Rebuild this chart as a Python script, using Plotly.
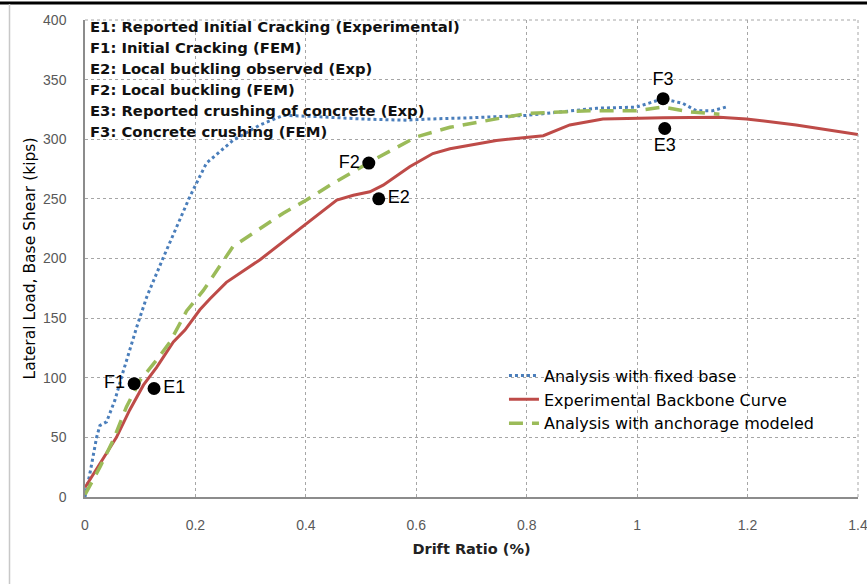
import plotly.graph_objects as go

# Analysis with fixed base (blue dotted)
fixed_x = [0.0, 0.009, 0.021, 0.027, 0.039, 0.054, 0.069, 0.094, 0.112, 0.142, 0.19, 0.22, 0.268,
           0.317, 0.359, 0.42, 0.5, 0.58, 0.625, 0.70, 0.80, 0.926, 0.999, 1.047, 1.083, 1.107, 1.137, 1.161]
fixed_y = [0, 20, 50, 60, 63, 81, 105, 143, 168, 201, 252, 280, 299,
           312, 320, 319, 317, 316, 317, 318, 320, 326, 327, 334, 330, 324, 324, 327]

# Experimental backbone curve (red solid)
exp_x = [0.0, 0.027, 0.057, 0.081, 0.106, 0.13, 0.16, 0.181, 0.208, 0.226, 0.256, 0.317, 0.401,
         0.456, 0.486, 0.516, 0.54, 0.588, 0.63, 0.661, 0.745, 0.83, 0.878, 0.938, 1.047, 1.149,
         1.198, 1.288, 1.4]
exp_y = [8, 28, 50, 73, 94, 109, 130, 140, 157, 166, 180, 199, 229,
         249, 253, 256, 261.5, 277, 288, 292, 299, 303, 312, 317, 318, 318.5,
         317, 312, 304]

# Analysis with anchorage modeled (green dashed)
anc_x = [0.0, 0.027, 0.051, 0.075, 0.1, 0.13, 0.154, 0.184, 0.214, 0.268, 0.359, 0.401, 0.449,
         0.522, 0.6, 0.661, 0.715, 0.80, 0.914, 0.999, 1.046, 1.095, 1.149]
anc_y = [2, 25, 47.6, 75.5, 98, 115, 130, 156, 173, 210, 238, 249, 263,
         282.5, 302, 310, 314.6, 321.6, 324, 324, 327, 323, 321]

# Event markers
event_labels = ["F1", "E1", "F2", "E2", "F3", "E3"]
event_x = [0.089, 0.125, 0.514, 0.532, 1.047, 1.05]
event_y = [95, 91, 280, 250, 334, 309]
event_pos = ["middle left", "middle right", "middle left", "middle right", "top center", "bottom center"]

notes = [
    "E1: Reported Initial Cracking (Experimental)",
    "F1: Initial Cracking (FEM)",
    "E2: Local buckling observed (Exp)",
    "F2: Local buckling (FEM)",
    "E3: Reported crushing of concrete (Exp)",
    "F3: Concrete crushing (FEM)",
]

x_ticks = [0, 0.2, 0.4, 0.6, 0.8, 1, 1.2, 1.4]
x_tick_text = ["0", "0.2", "0.4", "0.6", "0.8", "1", "1.2", "1.4"]
y_ticks = [0, 50, 100, 150, 200, 250, 300, 350, 400]

fig = go.Figure()
fig.add_trace(go.Scatter(x=fixed_x, y=fixed_y, mode="lines", name="Analysis with fixed base",
                         line=dict(color="#4a7ebb", width=3, dash="dot")))
fig.add_trace(go.Scatter(x=exp_x, y=exp_y, mode="lines", name="Experimental Backbone Curve",
                         line=dict(color="#be4b48", width=3)))
fig.add_trace(go.Scatter(x=anc_x, y=anc_y, mode="lines", name="Analysis with anchorage modeled",
                         line=dict(color="#9bbb59", width=3.5, dash="14px,9px")))
fig.add_trace(go.Scatter(x=event_x, y=event_y, mode="markers+text", text=event_labels,
                         textposition=event_pos, showlegend=False,
                         marker=dict(color="black", size=13),
                         textfont=dict(family="Liberation Sans", size=18, color="black")))

for i, t in enumerate(notes):
    fig.add_annotation(text="<b>" + t + "</b>", xref="paper", yref="paper",
                       x=0.004, y=1 - (6.5 + 21 * i) / 477.0, xanchor="left", yanchor="middle",
                       showarrow=False, font=dict(family="DejaVu Sans", size=14.8, color="#111111"))

# dashed border gridlines at top and right edges
fig.add_shape(type="line", xref="paper", yref="paper", x0=0, x1=1, y0=1, y1=1,
              line=dict(color="#a6a6a6", width=1, dash="3px,3px"))
fig.add_shape(type="line", xref="paper", yref="paper", x0=1, x1=1, y0=0, y1=1,
              line=dict(color="#a6a6a6", width=1, dash="3px,3px"))

# image frame lines
fig.add_shape(type="line", xref="paper", yref="paper", x0=-85 / 773.0, x1=782 / 773.0,
              y0=1 + 17 / 477.0, y1=1 + 17 / 477.0, line=dict(color="black", width=3))
fig.add_shape(type="line", xref="paper", yref="paper", x0=-75.5 / 773.0, x1=-75.5 / 773.0,
              y0=-87 / 477.0, y1=1 + 16 / 477.0, line=dict(color="#c8c8c8", width=1.5))

grid = dict(showgrid=True, gridcolor="#a6a6a6", gridwidth=1, griddash="3px,3px")
fig.update_xaxes(range=[0, 1.4], tickvals=x_ticks, ticktext=x_tick_text, zeroline=False,
                 showline=True, linecolor="#8c8c8c", linewidth=1.5, ticks="",
                 ticklabelstandoff=14, ticklabeloverflow="allow", automargin=False,
                 tickfont=dict(family="Liberation Sans", size=14, color="#595959"),
                 title=dict(text="<b>Drift Ratio (%)</b>", standoff=12,
                            font=dict(family="DejaVu Sans", size=14.5, color="#222222")),
                 **grid)
fig.update_yaxes(range=[0, 400], tickvals=y_ticks, zeroline=False,
                 showline=True, linecolor="#8c8c8c", linewidth=1.5, ticks="",
                 ticklabelstandoff=14, automargin=False,
                 tickfont=dict(family="Liberation Sans", size=14, color="#595959"),
                 title=dict(text="Lateral Load, Base Shear (kips)", standoff=4,
                            font=dict(family="DejaVu Sans", size=15.5, color="black")),
                 **grid)

fig.update_layout(
    width=867, height=584,
    margin=dict(l=85, r=9, t=20, b=87),
    paper_bgcolor="white", plot_bgcolor="white",
    legend=dict(x=0.542, y=0.29, xanchor="left", yanchor="top", bgcolor="rgba(0,0,0,0)",
                font=dict(family="DejaVu Sans", size=16, color="black"),
                tracegroupgap=0, itemwidth=30),
    showlegend=True,
)

fig.write_html("out.html")
